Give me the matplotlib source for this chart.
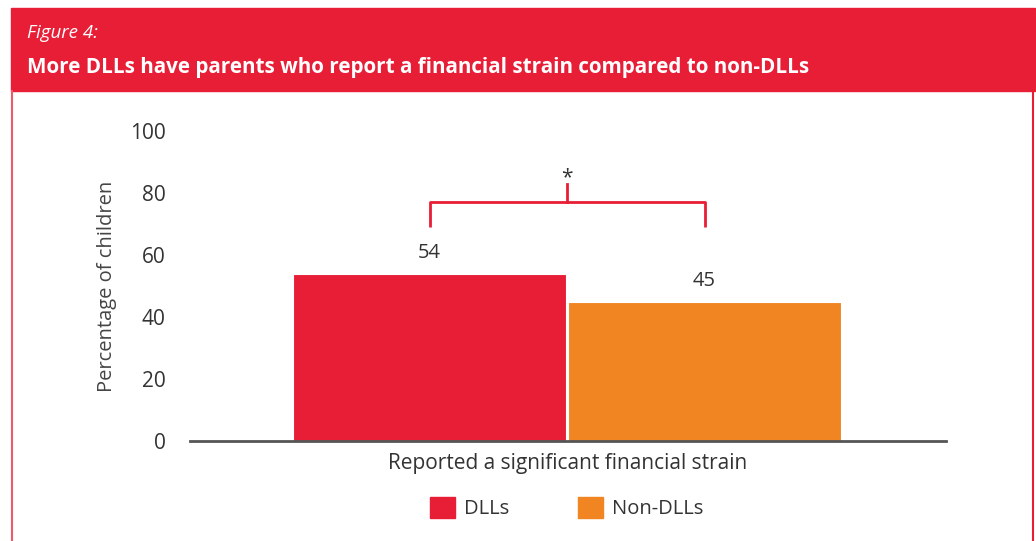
import matplotlib.pyplot as plt
from matplotlib.patches import Rectangle, Patch
from matplotlib.lines import Line2D

# data
groups = ["DLLs", "Non-DLLs"]
values = [54, 45]
colors = ["#E81D36", "#F08522"]
category = "Reported a significant financial strain"
yticks = [0, 20, 40, 60, 80, 100]

fig_title = "Figure 4:"
title = "More DLLs have parents who report a financial strain compared to non-DLLs"

RED = "#E81D36"
TXT = "#333333"
W, H = 1036, 541

plt.rcParams['font.family'] = ['Open Sans', 'DejaVu Sans']

fig = plt.figure(figsize=(W / 100, H / 100), dpi=100)


def fx(px):
    return px / W


def fy(py):
    return 1 - py / H


# header band + frame
fig.patches.append(Rectangle((fx(11), fy(91)), fx(1035 - 11), (91 - 8) / H,
                             transform=fig.transFigure, color=RED, zorder=0))
fig.lines.append(Line2D([fx(12), fx(12)], [fy(91), 0], transform=fig.transFigure,
                        color="#EE5A6A", lw=1.5))
fig.lines.append(Line2D([fx(1033), fx(1033)], [fy(91), 0], transform=fig.transFigure,
                        color=RED, lw=1.5))
fig.text(fx(27), fy(33), fig_title, color="white", fontsize=13.5, style="italic",
         va="center", ha="left")
fig.text(fx(27), fy(67), title, color="white", fontsize=14.9, weight="bold",
         va="center", ha="left")

ax = fig.add_axes([fx(190), fy(441), fx(946 - 190), (441 - 131) / H])

x = list(range(len(values)))
ax.bar(x, values, width=0.995, color=colors, edgecolor="white", linewidth=0.8)
for xi, v in zip(x, values):
    ax.text(xi, v + 3.5, str(v), ha="center", va="bottom", fontsize=14.5, color=TXT)

# significance bracket
top = max(values) + 23
ax.plot([x[0], x[0], x[1], x[1]], [top - 8, top, top, top - 8], color=RED, lw=2,
        solid_capstyle="butt", clip_on=False)
mid = (x[0] + x[1]) / 2
ax.plot([mid, mid], [top, top + 6], color=RED, lw=2, clip_on=False)
ax.text(mid, top + 4.5, "*", ha="center", va="bottom", fontsize=15, color=TXT)

ax.set_xlim(-0.871, 1.878)
ax.set_ylim(0, 100)
ax.set_yticks(yticks)
ax.set_xticks([])
ax.tick_params(axis="y", length=0, pad=17.5, labelsize=15, labelcolor=TXT)
for s in ["top", "right", "left"]:
    ax.spines[s].set_visible(False)
ax.spines["bottom"].set_color("#555555")
ax.spines["bottom"].set_linewidth(2)
ax.set_ylabel("Percentage of children", fontsize=14.5, color="#444444", labelpad=9)
ax.set_xlabel(category, fontsize=15, color=TXT, labelpad=9)

handles = [Patch(color=c, label=g) for g, c in zip(groups, colors)]
fig.legend(handles=handles, loc="center", bbox_to_anchor=(fx(567), fy(508)), ncol=2,
           frameon=False, fontsize=14.5, handlelength=1.25, handleheight=1.25,
           columnspacing=3.4, handletextpad=0.45, labelcolor=TXT)

fig.savefig("out.png", dpi=100)
